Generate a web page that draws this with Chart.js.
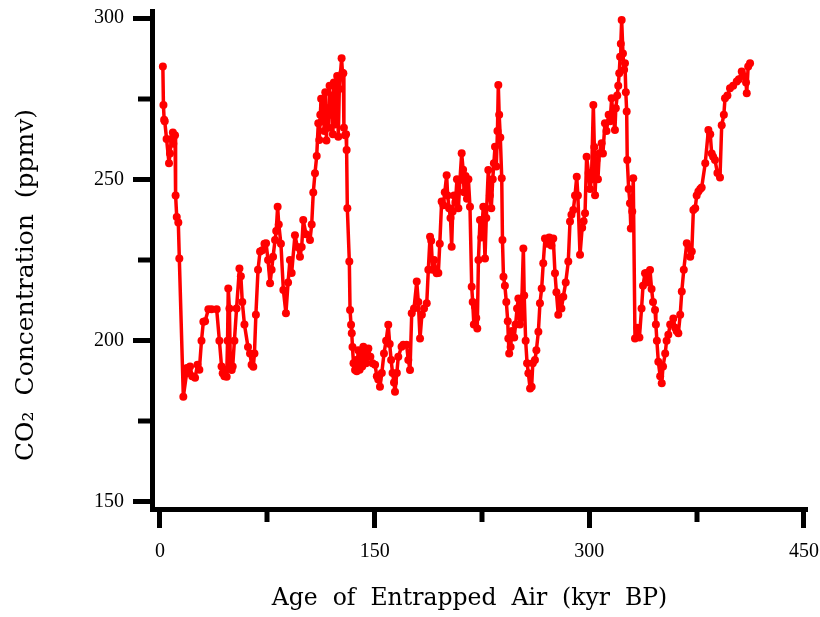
<!DOCTYPE html>
<html><head><meta charset="utf-8">
<script src="https://cdn.jsdelivr.net/npm/chart.js@4"></script>
<style>html,body{margin:0;padding:0;background:#fff}#c{display:block}</style>
</head><body>
<canvas id="c" width="820" height="617"></canvas>
<script>
// Gas age (kyr BP) and CO2 (ppmv)
const ageKyr = [2.0,2.4,2.9,3.3,4.6,6.3,7.0,8.0,9.0,9.3,10.5,10.9,11.7,12.8,13.5,16.3,18.6,18.8,19.8,21.0,22.5,24.5,26.2,27.5,29.0,30.3,31.5,33.8,36.0,39.6,41.5,43.0,43.8,45.0,46.0,46.6,47.2,47.7,48.5,49.2,50.1,50.8,52.0,53.5,55.5,56.5,57.5,59.0,61.5,62.9,64.0,65.2,66.0,67.0,68.5,69.9,71.5,73.0,74.1,75.5,76.9,78.0,79.0,80.4,81.2,82.2,83.0,84.5,86.2,88.0,89.5,90.8,92.0,94.3,96.0,97.8,99.0,100.1,102.0,104.8,106.0,107.1,108.3,109.5,110.6,111.3,112.0,112.6,113.2,114.0,114.8,115.5,116.3,117.0,117.8,118.5,119.3,120.0,120.8,121.5,122.3,123.0,123.8,124.6,125.3,126.9,127.5,128.1,128.5,129.3,130.0,130.4,130.9,132.3,132.8,133.5,134.0,134.5,135.2,136.3,137.0,137.5,138.5,139.5,140.5,141.3,142.1,143.0,144.0,145.6,147.0,148.5,150.3,151.5,152.5,153.7,155.0,156.5,158.0,159.5,160.5,161.5,162.5,163.5,164.2,165.5,166.5,168.8,170.0,172.3,173.5,174.7,175.9,177.5,179.4,180.5,181.7,183.0,184.5,186.4,187.5,188.7,189.5,190.5,191.5,193.3,194.5,195.5,196.8,198.0,199.0,200.3,201.0,202.0,203.0,203.8,204.5,205.5,206.5,207.5,208.5,209.6,210.8,211.8,212.5,213.5,214.5,215.5,216.6,217.8,218.5,219.3,220.1,221.0,221.7,222.5,223.6,224.5,225.9,227.1,228.0,229.4,230.5,231.5,232.5,233.3,234.1,235.0,235.8,236.4,237.0,237.8,238.8,239.3,240.0,241.0,242.0,243.0,243.4,244.0,245.0,246.0,247.5,248.5,249.5,250.4,251.5,252.5,253.9,254.5,255.5,256.5,257.4,258.6,259.7,260.5,262.0,263.0,264.4,265.5,266.7,267.8,269.0,270.5,272.0,273.5,274.8,276.0,277.0,278.3,279.5,280.5,281.8,283.5,285.3,286.5,287.5,288.8,290.0,291.2,292.0,293.5,295.0,296.0,297.0,298.1,299.5,300.5,301.5,302.8,303.5,304.0,305.0,306.0,307.0,308.6,309.5,310.9,312.0,313.5,314.5,315.6,316.5,317.9,318.5,319.5,320.2,320.9,321.5,322.0,322.6,323.5,324.3,324.9,325.5,326.1,326.5,327.5,328.4,329.0,330.0,330.7,331.9,333.5,335.0,336.5,337.5,338.9,340.0,341.0,342.4,343.5,344.5,345.9,346.5,347.2,348.2,349.5,350.6,351.5,353.0,354.0,355.2,356.5,358.7,360.0,361.0,362.2,363.5,364.6,366.0,368.1,369.5,370.5,371.6,372.7,374.0,375.0,376.2,377.5,378.5,381.0,383.2,384.5,385.5,386.5,387.8,389.5,391.3,392.5,394.0,394.8,396.5,398.3,400.5,403.0,404.5,406.5,408.0,409.5,410.0,411.0,412.3];
const co2Ppmv = [285.0,273.0,268.5,268.0,262.5,255.0,258.0,262.5,264.5,261.0,263.7,245.0,238.3,236.6,225.5,182.6,189.9,191.5,190.5,192.0,189.0,188.5,192.5,191.0,200.0,205.9,206.0,209.7,209.7,209.7,200.0,192.0,189.9,189.0,191.0,188.8,200.0,216.2,210.0,192.0,190.9,192.0,200.0,210.0,222.4,220.0,212.0,205.0,198.0,196.0,192.5,191.9,196.0,208.0,222.0,227.6,228.0,230.0,230.2,225.0,217.8,222.0,226.0,231.2,234.0,241.5,236.0,230.0,215.7,208.5,218.0,225.0,221.0,232.7,229.0,226.0,229.0,237.4,233.0,231.2,236.0,245.9,251.9,257.2,267.4,262.2,270.0,275.0,268.0,273.0,265.0,277.0,262.0,272.0,266.0,279.0,270.0,276.0,264.0,280.0,267.0,273.0,282.0,263.2,278.0,287.5,283.0,282.9,266.0,263.7,264.0,259.1,241.0,224.5,209.5,204.9,202.3,198.0,193.0,190.9,194.0,190.5,197.0,191.0,196.5,192.0,198.1,196.0,193.0,197.6,195.0,193.0,192.5,189.0,188.0,185.7,190.0,196.0,200.0,204.9,199.0,194.0,190.0,187.0,184.2,190.0,195.0,198.1,198.7,198.7,194.0,190.9,208.5,210.0,218.3,212.0,200.7,208.0,210.0,211.6,222.0,232.2,231.0,222.0,225.0,220.9,221.0,230.0,243.1,242.0,246.0,251.3,245.0,241.0,238.0,229.1,240.0,245.0,243.0,250.0,241.0,249.8,258.1,253.0,246.0,251.0,244.0,250.0,241.5,216.7,212.0,205.0,210.5,207.0,203.8,225.0,237.4,232.0,241.5,225.5,238.0,252.9,245.0,241.0,250.0,255.0,260.1,254.0,265.0,279.2,270.0,263.0,250.3,231.2,219.8,217.0,212.0,206.0,200.7,196.0,198.0,203.0,201.0,205.0,210.0,213.1,205.0,207.0,228.6,214.0,200.0,193.0,189.9,185.2,185.7,193.0,194.0,197.0,202.8,211.6,216.2,224.0,231.7,230.0,232.0,229.5,231.7,220.9,215.0,208.0,213.0,210.0,213.6,218.0,224.5,236.9,239.0,240.5,245.0,250.8,245.0,226.6,235.0,237.0,239.5,257.0,252.0,247.0,250.0,273.0,260.0,245.1,256.0,250.0,258.0,261.2,258.0,267.4,265.0,270.0,268.0,275.1,270.0,265.3,272.0,276.0,279.0,282.9,288.0,292.0,299.4,289.0,284.0,286.0,277.0,271.0,256.0,247.0,242.6,234.8,240.0,250.3,200.7,204.0,201.0,210.0,217.0,220.9,221.0,218.0,221.9,216.0,212.0,209.5,205.0,200.0,193.5,189.0,186.8,192.0,196.0,200.0,201.8,205.0,206.9,204.0,203.0,202.3,208.0,215.2,222.0,230.2,229.0,226.0,227.6,240.5,241.0,245.0,246.2,247.0,247.5,255.0,265.3,264.0,258.0,257.0,256.0,252.0,250.6,266.8,270.0,275.1,276.0,278.2,279.0,280.3,281.0,283.4,282.0,280.0,276.7,285.0,286.0];
const xMajorTicks = [0, 150, 300, 450];
const xMinorTicks = [75, 225, 375];
const yMajorTicks = [150, 200, 250, 300];
const yMinorTicks = [175, 225, 275];
const xTitle = 'Age  of  Entrapped  Air  (kyr  BP)';
const yTitle = 'CO\u2082  Concentration  (ppmv)';

const points = ageKyr.map((a, i) => ({x: a, y: co2Ppmv[i]}));

const minorTickPlugin = {
  id: 'minorTicks',
  afterDraw(chart) {
    const {ctx, scales: {x, y}} = chart;
    ctx.save();
    ctx.strokeStyle = '#000';
    ctx.lineWidth = 5;
    xMinorTicks.forEach(v => {
      const px = Math.round(x.getPixelForValue(v));
      ctx.beginPath(); ctx.moveTo(px, x.top); ctx.lineTo(px, x.top + 13); ctx.stroke();
    });
    yMinorTicks.forEach(v => {
      const py = Math.round(y.getPixelForValue(v));
      ctx.beginPath(); ctx.moveTo(y.right, py); ctx.lineTo(y.right - 14, py); ctx.stroke();
    });
    ctx.restore();
  }
};
const axisTitlePlugin = {
  id: 'axisTitles',
  afterDraw(chart) {
    const {ctx, chartArea} = chart;
    ctx.save();
    ctx.fillStyle = '#000';
    ctx.textAlign = 'center';
    ctx.textBaseline = 'middle';
    // x title
    ctx.font = '23.5px "DejaVu Serif"';
    ctx.fillText(xTitle, (chartArea.left + chartArea.right) / 2 - 10, 599);
    // y title
    ctx.translate(26, (chartArea.top + chartArea.bottom) / 2 + 25);
    ctx.rotate(-Math.PI / 2);
    ctx.font = '25px "DejaVu Serif"';
    ctx.fillText(yTitle, 0, 0);
    ctx.restore();
  }
};

const tickFont = {family: 'Liberation Serif', size: 20};
new Chart(document.getElementById('c'), {
  type: 'scatter',
  data: {datasets: [{
    data: points,
    showLine: true,
    borderColor: '#ff0000',
    borderWidth: 3.5,
    borderJoinStyle: 'round',
    borderCapStyle: 'round',
    backgroundColor: '#ff0000',
    pointRadius: 4,
    pointBorderWidth: 0,
    pointBackgroundColor: '#ff0000',
    tension: 0
  }]},
  options: {
    responsive: false,
    animation: false,
    devicePixelRatio: 1,
    layout: {padding: {top: 11, right: 13, bottom: 0, left: 0}},
    plugins: {legend: {display: false}, tooltip: {enabled: false}},
    scales: {
      x: {
        type: 'linear',
        min: -5.59, max: 452.1,
        afterBuildTicks: s => { s.ticks = xMajorTicks.map(v => ({value: v})); },
        afterFit: s => { s.height = 108; s.paddingLeft = 0; s.paddingRight = 0; },
        border: {display: true, color: '#000', width: 5},
        grid: {display: true, drawOnChartArea: false, drawTicks: true, tickLength: 19, tickWidth: 5, tickColor: '#000'},
        ticks: {font: tickFont, color: '#000', padding: 12, maxRotation: 0, autoSkip: false},
        title: {display: false}
      },
      y: {
        type: 'linear',
        min: 147.83, max: 302.17,
        afterBuildTicks: s => { s.ticks = yMajorTicks.map(v => ({value: v})); },
        afterFit: s => { s.width = 152; s.paddingTop = 0; s.paddingBottom = 0; },
        border: {display: true, color: '#000', width: 5},
        grid: {display: true, drawOnChartArea: false, drawTicks: true, tickLength: 19, tickWidth: 5, tickColor: '#000'},
        ticks: {font: tickFont, color: '#000', padding: 9, autoSkip: false},
        title: {display: false}
      }
    }
  },
  plugins: [minorTickPlugin, axisTitlePlugin]
});
</script>
</body></html>
